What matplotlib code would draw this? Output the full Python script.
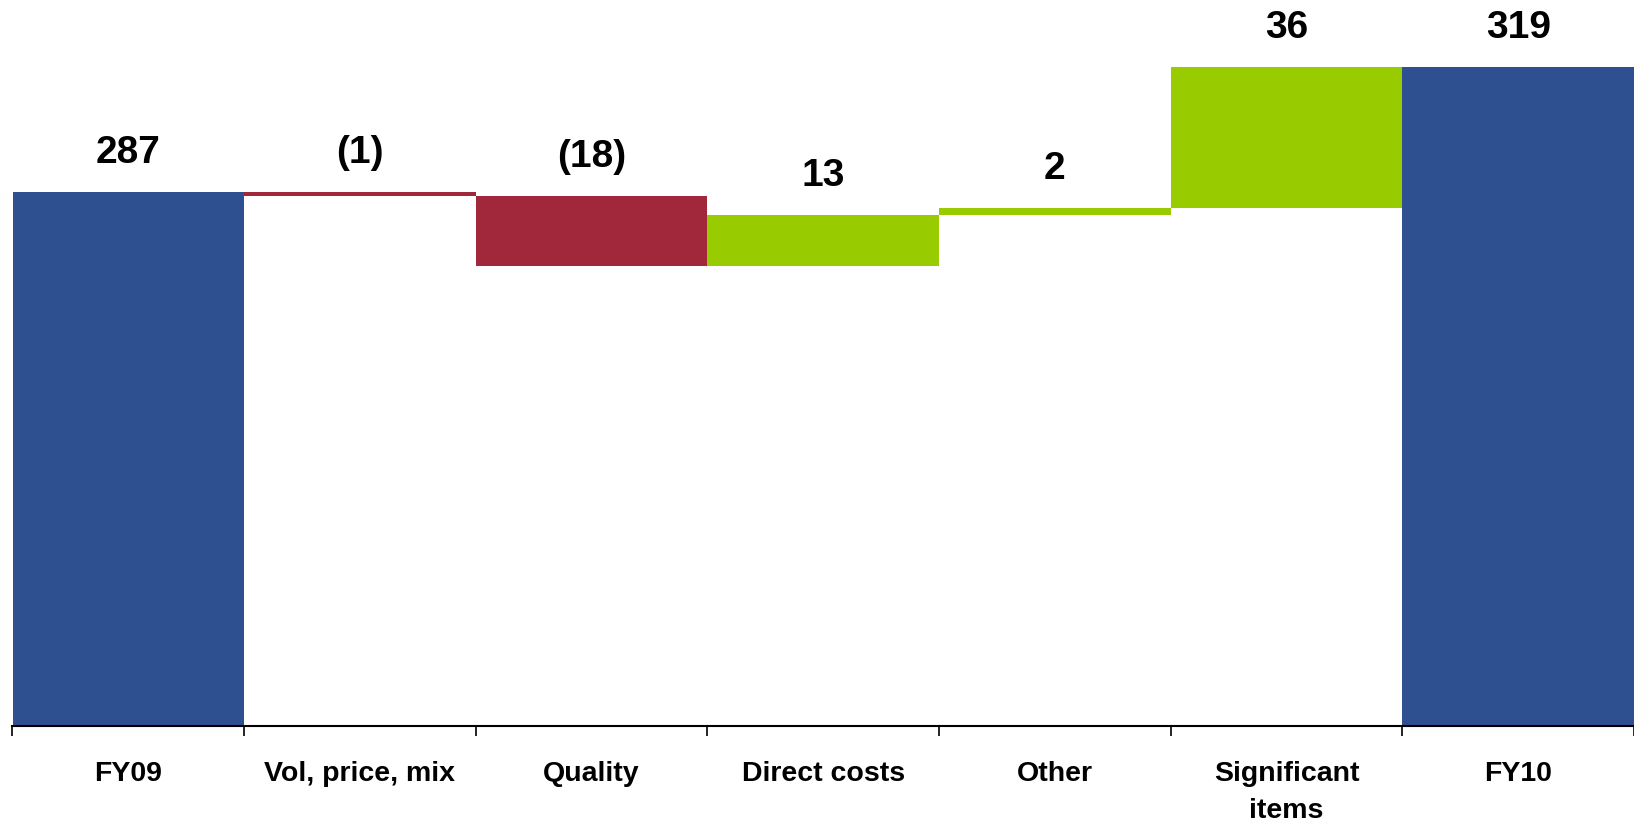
import matplotlib
matplotlib.use("Agg")
import matplotlib.pyplot as plt
import numpy as np

plt.rcParams['font.family'] = ['Liberation Sans', 'DejaVu Sans']

# data
categories = ['FY09', 'Vol, price, mix', 'Quality', 'Direct costs', 'Other',
              'Significant\nitems', 'FY10']
changes = [287, -1, -18, 13, 2, 36, 319]
labels = ['287', '(1)', '(18)', '13', '2', '36', '319']
is_total = [True, False, False, False, False, False, True]

blue = '#2E5090'
red = '#A0283A'
green = '#99CC00'

# waterfall bottoms / heights
bottoms, heights, colors, tops = [], [], [], []
running = 0
for v, tot in zip(changes, is_total):
    if tot:
        bottoms.append(0)
        heights.append(v)
        colors.append(blue)
        running = v
        tops.append(v)
    else:
        new = running + v
        bottoms.append(min(running, new))
        heights.append(abs(v))
        colors.append(green if v > 0 else red)
        tops.append(max(running, new))
        running = new

fig = plt.figure(figsize=(16.34, 8.25), dpi=100)
ax = fig.add_axes([12.5 / 1634, 99 / 825, 1 - 12.5 / 1634, 726 / 825])

x = np.arange(len(categories))
ax.bar(x, heights, bottom=bottoms, width=1.0, color=colors, linewidth=0)

for xi, t, lab in zip(x, tops, labels):
    ax.annotate(lab, (xi, t), xytext=(0, 28), textcoords='offset points',
                ha='center', va='center', fontsize=28, fontweight='bold')

ax.set_xlim(-0.5, len(categories) - 0.5)
ax.set_ylim(150.6, 336)

for s in ['top', 'right', 'left']:
    ax.spines[s].set_visible(False)
ax.spines['bottom'].set_linewidth(1.5)
ax.set_yticks([])

ax.set_xticks(x)
ax.set_xticklabels(categories, fontsize=20.5, fontweight='bold', linespacing=1.55)
ax.tick_params(axis='x', which='major', length=0, pad=25)
ax.set_xticks(np.arange(-0.5, len(categories), 1.0), minor=True)
ax.tick_params(axis='x', which='minor', length=7, width=1.2, direction='out')

fig.savefig('out.png', dpi=100)
